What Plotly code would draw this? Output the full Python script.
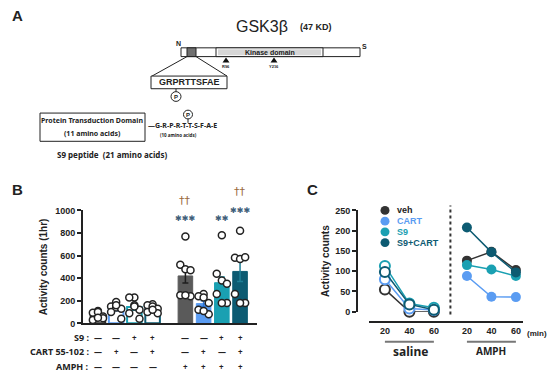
import plotly.graph_objects as go

W, H = 550, 379
def px(x): return x / W
def py(y): return 1 - y / H

# ---------------- data ----------------
groups = ['veh', 'CART', 'S9', 'S9+CART']
fill_colors = ['#5a5a5a', '#5a9cf2', '#1aa0b2', '#0d5b72']
edge_colors = ['#2a2a2a', '#5a9cf2', '#1aa0b2', '#0d5b72']
err_colors_amph = ['#1e1e1e', '#2f74d6', '#1aa0b2', '#1f7f96']
line_colors = ['#333333', '#5a9cf2', '#1aa0b2', '#0d5b72']

# Panel B: positions of bars (saline group, then AMPH group)
b_pos_saline = [0, 1, 2, 3]
b_pos_amph = [4.8, 5.8, 6.8, 7.8]
saline_mean = [70, 130, 145, 130]
saline_sem = [12, 18, 28, 12]
amph_mean = [420, 175, 360, 460]
amph_sem = [62, 25, 50, 90]
saline_points = [
    [110, 95, 100, 60, 30, 45, 50],
    [190, 150, 140, 130, 100, 40, 160],
    [230, 230, 160, 120, 90, 40, 150],
    [170, 160, 150, 130, 100, 90, 120],
]
amph_points = [
    [770, 520, 480, 470, 250, 240, 250],
    [260, 240, 230, 180, 120, 80, 110],
    [780, 440, 380, 350, 260, 180, 180],
    [820, 580, 570, 585, 260, 180, 180],
]
point_offsets = [0, -0.28, 0, 0.28, -0.28, 0.28, 0]
b_yticks = [0, 200, 400, 600, 800, 1000]
b_yrange = [0, 1000]

row_labels = ['S9 :', 'CART 55-102 :', 'AMPH :']
row_signs = [
    ['—', '—', '+', '+', '—', '—', '+', '+'],
    ['—', '+', '—', '+', '—', '+', '—', '+'],
    ['—', '—', '—', '—', '+', '+', '+', '+'],
]
# significance marks: (bar index in AMPH group, value level, text)
sig_marks = [(0, 925, '✱✱✱'), (0, 1090, '††'), (2, 925, '✱✱'), (3, 1000, '✱✱✱'), (3, 1165, '††')]

# Panel C
time_labels = ['20', '40', '60']
c_pos_saline = [1, 2, 3]
c_pos_amph = [4.35, 5.35, 6.35]
saline_c = [[55, 0, 0], [80, 8, 4], [113, 20, 10], [98, 18, 5]]
amph_c = [[126, 148, 103], [88, 37, 36], [115, 104, 88], [208, 147, 97]]
c_yticks = [0, 50, 100, 150, 200, 250]

FONT = 'Liberation Sans'
fig = go.Figure()

yb_dom = [py(327), py(211)]

# ---------------- Panel B ----------------
for i in range(4):
    fig.add_trace(go.Bar(
        x=[b_pos_saline[i]], y=[saline_mean[i]], width=0.8,
        marker=dict(color='white', line=dict(color=edge_colors[i], width=2)),
        error_y=dict(type='data', array=[saline_sem[i]], color=edge_colors[i], thickness=1.5, width=3),
        xaxis='x', yaxis='y', showlegend=False))
for i in range(4):
    fig.add_trace(go.Bar(
        x=[b_pos_amph[i]], y=[amph_mean[i]], width=0.8,
        marker=dict(color=fill_colors[i], line=dict(color=fill_colors[i], width=1)),
        error_y=dict(type='data', array=[amph_sem[i]], color=err_colors_amph[i], thickness=1.5, width=3),
        xaxis='x', yaxis='y', showlegend=False))
for pos, pts in list(zip(b_pos_saline, saline_points)) + list(zip(b_pos_amph, amph_points)):
    fig.add_trace(go.Scatter(
        x=[pos + point_offsets[k] for k in range(len(pts))], y=pts, mode='markers',
        marker=dict(size=7, color='white', line=dict(color='#222', width=1.5)),
        cliponaxis=False, xaxis='x', yaxis='y', showlegend=False))

# ---------------- Panel C ----------------
for i in range(4):
    fig.add_trace(go.Scatter(
        x=c_pos_saline, y=saline_c[i], mode='lines+markers',
        line=dict(color=line_colors[i], width=1.5),
        marker=dict(size=10, color='white', line=dict(color=line_colors[i], width=2)),
        cliponaxis=False, xaxis='x2', yaxis='y2', showlegend=False))
for i in range(4):
    fig.add_trace(go.Scatter(
        x=c_pos_amph, y=amph_c[i], mode='lines+markers',
        line=dict(color=line_colors[i], width=1.5),
        marker=dict(size=10, color=line_colors[i]),
        cliponaxis=False, xaxis='x2', yaxis='y2', showlegend=False))

tickfont = dict(family=FONT, size=9, color='#222', weight='bold')
fig.update_layout(
    width=W, height=H, margin=dict(l=0, r=0, t=0, b=0),
    paper_bgcolor='white', plot_bgcolor='rgba(0,0,0,0)', barmode='overlay',
    xaxis=dict(domain=[px(83), px(257)], range=[-0.82, 8.73], showline=True, linewidth=2,
               linecolor='#222', showticklabels=False, ticks='', showgrid=False, zeroline=False,
               anchor='y'),
    yaxis=dict(domain=yb_dom, range=b_yrange, tickvals=b_yticks, ticks='outside',
               ticklen=4, tickwidth=2, tickcolor='#222', showline=True, linewidth=2, linecolor='#222',
               tickfont=tickfont, showgrid=False, zeroline=False, anchor='x',
               title=dict(text='Activity counts (1hr)', font=dict(family=FONT, size=10, color='#222', weight='bold'), standoff=6)),
    xaxis2=dict(domain=[px(369), px(523)], range=[0.35, 6.64], anchor='free', position=py(326),
                showline=True, linewidth=2, linecolor='#222', ticks='',
                tickvals=c_pos_saline + c_pos_amph, ticktext=time_labels + time_labels,
                tickfont=tickfont, showgrid=False, zeroline=False),
    yaxis2=dict(domain=[py(315), py(211)], range=[0, 250], anchor='free', position=px(357),
                tickvals=c_yticks, ticks='outside', ticklen=4, tickwidth=2, tickcolor='#222',
                showline=True, linewidth=2, linecolor='#222', tickfont=tickfont,
                showgrid=False, zeroline=False,
                title=dict(text='Activity counts', font=dict(family=FONT, size=10, color='#222', weight='bold'), standoff=3)),
)

ann = []
shapes = []
def A(x, y, text, size=9, color='#222', bold=False, family=FONT, xanchor='center', xref='paper', yref='paper'):
    ann.append(dict(x=x, y=y, xref=xref, yref=yref, text=text, showarrow=False,
                    xanchor=xanchor, yanchor='middle',
                    font=dict(family=family, size=size, color=color, weight='bold' if bold else 'normal')))

# panel letters
A(px(17), py(11), 'A', 15, bold=True)
A(px(17), py(190), 'B', 15, bold=True)
A(px(312), py(190), 'C', 15, bold=True)

# significance marks (value level mapped through panel B's y axis into paper space)
star_color = '#3f5f7a'
dag_color = '#9a6a3c'
def yb_paper(v):
    return yb_dom[0] + (v - b_yrange[0]) / (b_yrange[1] - b_yrange[0]) * (yb_dom[1] - yb_dom[0])
for bi, v, t in sig_marks:
    is_star = '✱' in t
    A(b_pos_amph[bi], yb_paper(v), t, 8 if is_star else 11, star_color if is_star else dag_color,
      family='DejaVu Sans', xref='x')

# table below B
row_y = [342, 356, 371]
all_pos = b_pos_saline + b_pos_amph
for r in range(3):
    A(px(91), py(row_y[r]), row_labels[r], 9, bold=True, family='Noto Sans', xanchor='right')
    for j, p in enumerate(all_pos):
        A(p, py(row_y[r]), row_signs[r][j], 8, bold=True, family='Noto Sans', xref='x')

# Panel C extras
A(px(549), py(337), '(min)', 8, bold=True, xanchor='right')
A(px(410), py(356), 'saline', 12, bold=True, family='Noto Sans')
A(px(491), py(355), 'AMPH', 10, bold=True, family='Noto Sans')
shapes.append(dict(type='line', xref='x2', yref='paper', x0=c_pos_saline[0], x1=c_pos_saline[-1],
                   y0=py(346), y1=py(346), line=dict(color='#777', width=2)))
shapes.append(dict(type='line', xref='x2', yref='paper', x0=c_pos_amph[0], x1=c_pos_amph[-1],
                   y0=py(346), y1=py(346), line=dict(color='#777', width=2)))
shapes.append(dict(type='line', xref='x2', yref='paper', x0=(c_pos_saline[-1] + c_pos_amph[0]) / 2,
                   x1=(c_pos_saline[-1] + c_pos_amph[0]) / 2, y0=py(318), y1=py(206),
                   line=dict(color='#333', width=2, dash='dot')))
# legend
leg_y = [211, 222, 233, 244]
for i, g in enumerate(groups):
    cx, cy, r = 385, leg_y[i], 4.5
    shapes.append(dict(type='circle', xref='paper', yref='paper', x0=px(cx - r), x1=px(cx + r),
                       y0=py(cy + r), y1=py(cy - r), fillcolor=line_colors[i], line=dict(width=0)))
    A(px(395), py(cy), g, 9, color=line_colors[i] if i else '#222', bold=True, xanchor='left')

# ---------------- Panel A diagram ----------------
A(px(262), py(22), 'GSK3β', 16)
A(px(316), py(23), '(47 KD)', 9, bold=True)
A(px(178), py(40), 'N', 7, bold=True)
A(px(364), py(43), 'S', 7, bold=True)
def rect(x0, y0, x1, y1, fill='white', lw=1):
    shapes.append(dict(type='rect', xref='paper', yref='paper', x0=px(x0), x1=px(x1), y0=py(y1), y1=py(y0),
                       fillcolor=fill, line=dict(color='#222', width=lw)))
def line(x0, y0, x1, y1, w=1, c='#222'):
    shapes.append(dict(type='line', xref='paper', yref='paper', x0=px(x0), x1=px(x1), y0=py(y0), y1=py(y1),
                       line=dict(color=c, width=w)))
rect(181, 44, 360, 53)
rect(187, 44, 196, 53, fill='#707070')
rect(216, 44, 323, 53)
shapes.append(dict(type='rect', xref='paper', yref='paper', x0=px(218), x1=px(321), y0=py(51.5), y1=py(45.5),
                   fillcolor='#d6d6d6', line=dict(width=0)))
A(px(270), py(48.5), 'Kinase domain', 7, bold=True)
for tx, lab in [(226, 'R96'), (274, 'Y216')]:
    shapes.append(dict(type='path', xref='paper', yref='paper',
                       path=f'M {px(tx-3.5)} {py(59)} L {px(tx+3.5)} {py(59)} L {px(tx)} {py(54)} Z',
                       fillcolor='#111', line=dict(width=0)))
    A(px(tx), py(63), lab, 4, bold=True)
line(187, 53, 152, 73)
line(196, 53, 227, 73)
rect(151, 73, 227, 86)
A(px(189), py(79.5), 'GRPRTTSFAE', 9, bold=True)
line(176, 86, 176, 89)
shapes.append(dict(type='circle', xref='paper', yref='paper', x0=px(171), x1=px(181), y0=py(99), y1=py(89),
                   fillcolor='white', line=dict(color='#222', width=1)))
A(px(176), py(94), 'P', 6, bold=True)
rect(40, 111, 145, 140)
A(px(92), py(119), 'Protein Transduction Domain', 7, bold=True, family='Noto Sans')
A(px(92), py(132), '(11 amino acids)', 7, bold=True, family='Noto Sans')
A(px(146), py(124), '—G-R-P-R-T-T-S-F-A-E', 7, bold=True, family='Noto Sans', xanchor='left')
A(px(178), py(134), '(10 amino acids)', 4.5, bold=True, family='Noto Sans')
line(188, 117, 188, 121)
shapes.append(dict(type='circle', xref='paper', yref='paper', x0=px(183.5), x1=px(192.5), y0=py(117), y1=py(108),
                   fillcolor='white', line=dict(color='#222', width=1)))
A(px(188), py(112.5), 'P', 6, bold=True)
A(px(112), py(154), 'S9 peptide  (21 amino acids)', 8, bold=True, family='Noto Sans')

fig.update_layout(annotations=ann, shapes=shapes)
fig.write_html('out.html', config={'displayModeBar': False},
               post_script="document.body.style.margin='0';document.body.style.overflow='hidden';")
